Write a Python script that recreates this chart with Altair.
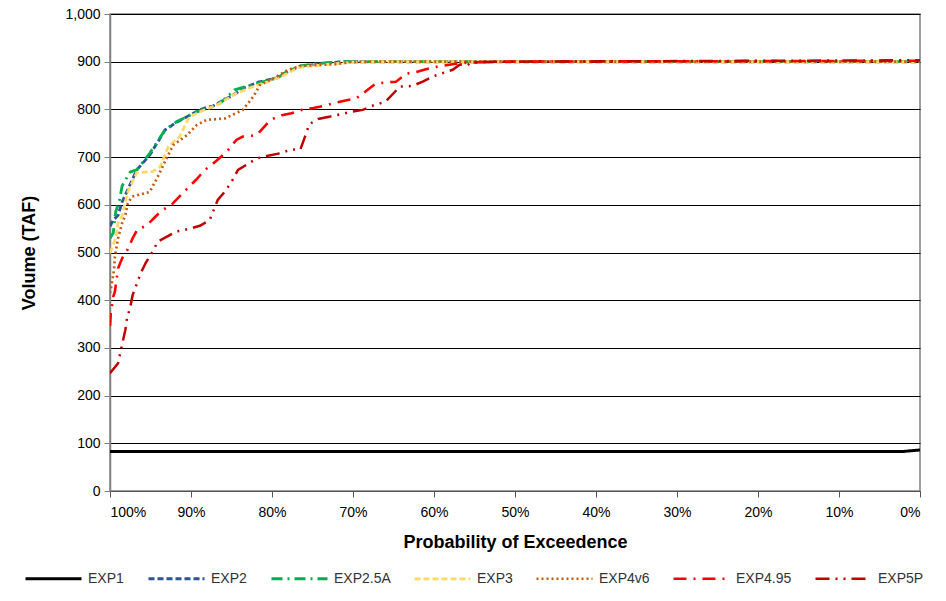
import altair as alt
import pandas as pd

series = ["EXP1", "EXP2", "EXP2.5A", "EXP3", "EXP4v6", "EXP4.95", "EXP5P"]
colors = ["#000000", "#2F5597", "#00B050", "#FFD966", "#C55A11", "#FF0000", "#C00000"]
dashes = [[1, 0], [6, 3], [11, 5, 2, 5], [6, 3], [2, 3], [13, 7, 2, 7], [14, 6, 2, 6, 2, 6]]
widths = [3, 2.5, 2.5, 2.5, 2.5, 2.5, 2.5]

exp1_p = [100, 2, 0]
exp1_v = [83, 83, 86]

exp2_p = [100, 99.6, 99.0, 98.5, 96.7, 95.1, 93.2, 92.8, 92.0, 88.9, 87.9, 87.3, 84.8, 83.5, 81.7, 79.4, 78.0, 76.5, 74.0, 71.0, 0]
exp2_v = [555, 568, 578, 606, 673, 704, 757, 761, 771, 799, 805, 807, 830, 845, 857, 866, 880, 890, 896, 900, 900]

exp25_p = [100, 99.6, 99.3, 98.8, 98.5, 97.5, 96.7, 95.1, 93.2, 91.8, 89.3, 87.7, 86.4, 84.6, 83.8, 81.7, 79.4, 78.0, 76.5, 74.0, 71.0, 0]
exp25_v = [530, 541, 585, 612, 640, 669, 673, 708, 757, 774, 795, 803, 813, 841, 845, 855, 866, 880, 891, 897, 900, 900]

exp3_p = [100, 99.7, 99.3, 99.0, 98.5, 97.8, 96.7, 94.7, 93.8, 92.8, 91.4, 90.4, 90.1, 88.9, 86.8, 84.4, 82.3, 80.5, 78.5, 76.7, 74.0, 70.0, 68.0, 0]
exp3_v = [499, 512, 530, 562, 578, 627, 667, 670, 680, 722, 743, 778, 785, 795, 809, 834, 848, 858, 872, 888, 893, 899, 900, 900]

exp4v6_p = [100, 99.7, 99.5, 99.4, 99.0, 98.5, 98.1, 97.8, 97.3, 95.1, 94.1, 93.0, 92.2, 90.5, 89.3, 88.1, 85.8, 83.6, 82.3, 81.5, 79.4, 78.0, 76.5, 74.5, 72.0, 70.4, 68.0, 0]
exp4v6_v = [415, 442, 465, 491, 530, 562, 579, 603, 617, 627, 659, 698, 725, 746, 767, 778, 781, 799, 827, 851, 869, 883, 891, 893, 895, 899, 900, 900]

exp495_p = [100, 99.9, 99.6, 99.4, 99.2, 99.0, 98.5, 97.8, 97.2, 96.6, 95.5, 94.4, 93.6, 92.3, 91.0, 90.4, 89.4, 88.3, 87.5, 85.6, 84.4, 83.6, 81.9, 81.3, 80.2, 78.8, 77.6, 76.3, 74.9, 73.7, 72.2, 70.8, 69.6, 68.5, 67.3, 66.3, 64.7, 63.4, 62.3, 61.0, 59.5, 58.3, 56.8, 55.6, 53.1, 0]
exp495_v = [346, 373, 407, 418, 442, 467, 488, 507, 530, 549, 556, 575, 588, 602, 625, 635, 652, 673, 683, 711, 736, 743, 746, 757, 778, 788, 792, 799, 803, 807, 814, 819, 823, 837, 853, 856, 858, 875, 878, 884, 890, 893, 897, 898, 900, 902]

exp5p_p = [100, 99.0, 98.7, 98.1, 97.9, 97.5, 97.2, 96.2, 95.6, 94.8, 94.1, 91.8, 90.4, 88.9, 87.7, 86.7, 85.7, 84.9, 84.2, 81.9, 80.5, 79.0, 77.6, 76.5, 75.9, 75.4, 74.3, 72.8, 70.2, 68.8, 67.4, 66.0, 64.2, 62.7, 61.4, 60.0, 57.7, 56.8, 56.0, 55.3, 51.9, 0]
exp5p_v = [247, 268, 292, 338, 362, 386, 411, 457, 478, 500, 523, 544, 549, 556, 568, 610, 630, 651, 673, 697, 703, 708, 716, 716, 744, 769, 780, 785, 795, 799, 809, 816, 848, 849, 858, 870, 883, 894, 892, 898, 900, 903]

all_p = [exp1_p, exp2_p, exp25_p, exp3_p, exp4v6_p, exp495_p, exp5p_p]
all_v = [exp1_v, exp2_v, exp25_v, exp3_v, exp4v6_v, exp495_v, exp5p_v]

rows = []
for s, ps, vs in zip(series, all_p, all_v):
    for i, (p, v) in enumerate(zip(ps, vs)):
        rows.append({"series": s, "p": p, "v": v, "i": i})
df = pd.DataFrame(rows)

FONT = "Liberation Sans"

chart = alt.Chart(df).mark_line(clip=True).encode(
    x=alt.X("p:Q",
            scale=alt.Scale(domain=[0, 100], reverse=True, nice=False, zero=False),
            axis=alt.Axis(values=list(range(0, 101, 10)), labelExpr="datum.value + '%'",
                          title="Probability of Exceedence", grid=False,
                          tickSize=6, labelPadding=8, titlePadding=14,
                          labelFontSize=14, titleFontSize=18, titleFontWeight="bold",
                          domainColor="#555555", tickColor="#555555", labelColor="#000000",
                          titleColor="#000000", labelFont=FONT, titleFont=FONT)),
    y=alt.Y("v:Q",
            scale=alt.Scale(domain=[0, 1000], nice=False),
            axis=alt.Axis(values=list(range(0, 1001, 100)), format=",d",
                          title="Volume (TAF)", grid=True, gridColor="#000000", gridWidth=1.2,
                          tickSize=6, labelPadding=4, titlePadding=26,
                          labelFontSize=14, titleFontSize=18, titleFontWeight="bold",
                          domainColor="#808080", domainWidth=1.5, tickColor="#808080",
                          labelColor="#000000", titleColor="#000000",
                          labelFont=FONT, titleFont=FONT)),
    color=alt.Color("series:N", scale=alt.Scale(domain=series, range=colors),
                    legend=alt.Legend(title=None)),
    strokeDash=alt.StrokeDash("series:N", scale=alt.Scale(domain=series, range=dashes),
                              legend=alt.Legend(title=None)),
    strokeWidth=alt.StrokeWidth("series:N", scale=alt.Scale(domain=series, range=widths),
                                legend=None),
    order=alt.Order("i:Q"),
).properties(
    width=810, height=477,
    autosize=alt.AutoSizeParams(type="none"),
    padding={"left": 102, "top": 6, "right": 18, "bottom": 102},
).configure_view(
    stroke="#808080", strokeWidth=1.5
).configure_legend(
    orient="none", legendX=-86, legendY=535, direction="horizontal", columns=7,
    symbolType="stroke", symbolSize=3136, symbolStrokeWidth=3,
    labelFontSize=14, labelFont=FONT, labelColor="#333333", labelOffset=5,
    columnPadding=18
)

chart.save("out.html", embed_options={"renderer": "svg", "actions": False})
